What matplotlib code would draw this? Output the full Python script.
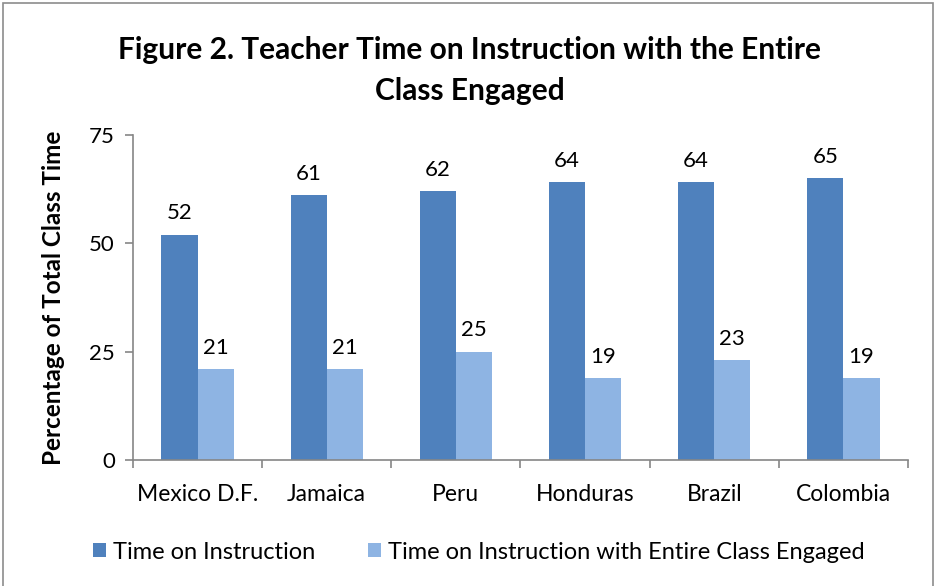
import numpy as np
import matplotlib.pyplot as plt
from matplotlib.patches import Rectangle

countries = ['Mexico D.F.', 'Jamaica', 'Peru', 'Honduras', 'Brazil', 'Colombia']
instruction = [52, 61, 62, 64, 64, 65]
engaged = [21, 21, 25, 19, 23, 19]
series_names = ['Time on Instruction', 'Time on Instruction with Entire Class Engaged']

plt.rcParams['font.family'] = ['Lato', 'DejaVu Sans']

fig = plt.figure(figsize=(9.39, 5.86), dpi=100)
ax = fig.add_axes([0.1416, 0.215, 0.8254, 0.555])

x = np.arange(len(countries))
w = 0.28
b1 = ax.bar(x - w / 2, instruction, w, color='#4F81BD', label=series_names[0])
b2 = ax.bar(x + w / 2, engaged, w, color='#8EB4E3', label=series_names[1])
for bars in (b1, b2):
    for r in bars:
        ax.annotate(f'{r.get_height():.0f}', (r.get_x() + r.get_width() / 2, r.get_height()),
                    xytext=(0, 8), textcoords='offset points', ha='center', va='bottom', fontsize=16)

ax.set_xlim(-0.5, len(countries) - 0.5)
ax.set_ylim(0, 75)
ax.set_yticks([0, 25, 50, 75])
ax.set_xticks(x)
ax.set_xticklabels(countries, fontsize=16.5)
ax.set_xticks(np.arange(len(countries) + 1) - 0.5, minor=True)
ax.tick_params(axis='x', which='major', length=0, pad=17)
ax.tick_params(axis='x', which='minor', length=6, color='#868686', width=1.2)
ax.tick_params(axis='y', length=6, color='#868686', width=1.2, labelsize=16, pad=7)
for s in ('top', 'right'):
    ax.spines[s].set_visible(False)
for s in ('left', 'bottom'):
    ax.spines[s].set_color('#868686')
    ax.spines[s].set_linewidth(1.2)

ax.set_ylabel('Percentage of Total Class Time', fontsize=17.5, fontweight='bold', labelpad=17)

fig.text(0.5, 0.88, 'Figure 2. Teacher Time on Instruction with the Entire\nClass Engaged',
         ha='center', va='center', fontsize=21.5, fontweight='bold', linespacing=1.55)

fig.legend(handles=[b1, b2], loc='center', bbox_to_anchor=(0.51, 0.058), ncol=2, frameon=False,
           fontsize=17, handlelength=0.55, handleheight=0.55, handletextpad=0.3, columnspacing=2.2)

fig.patches.append(Rectangle((0.003, -0.01), 0.991, 1.005, transform=fig.transFigure,
                             fill=False, edgecolor='#8c8c8c', linewidth=1.2))

fig.savefig('out.png', dpi=100)
